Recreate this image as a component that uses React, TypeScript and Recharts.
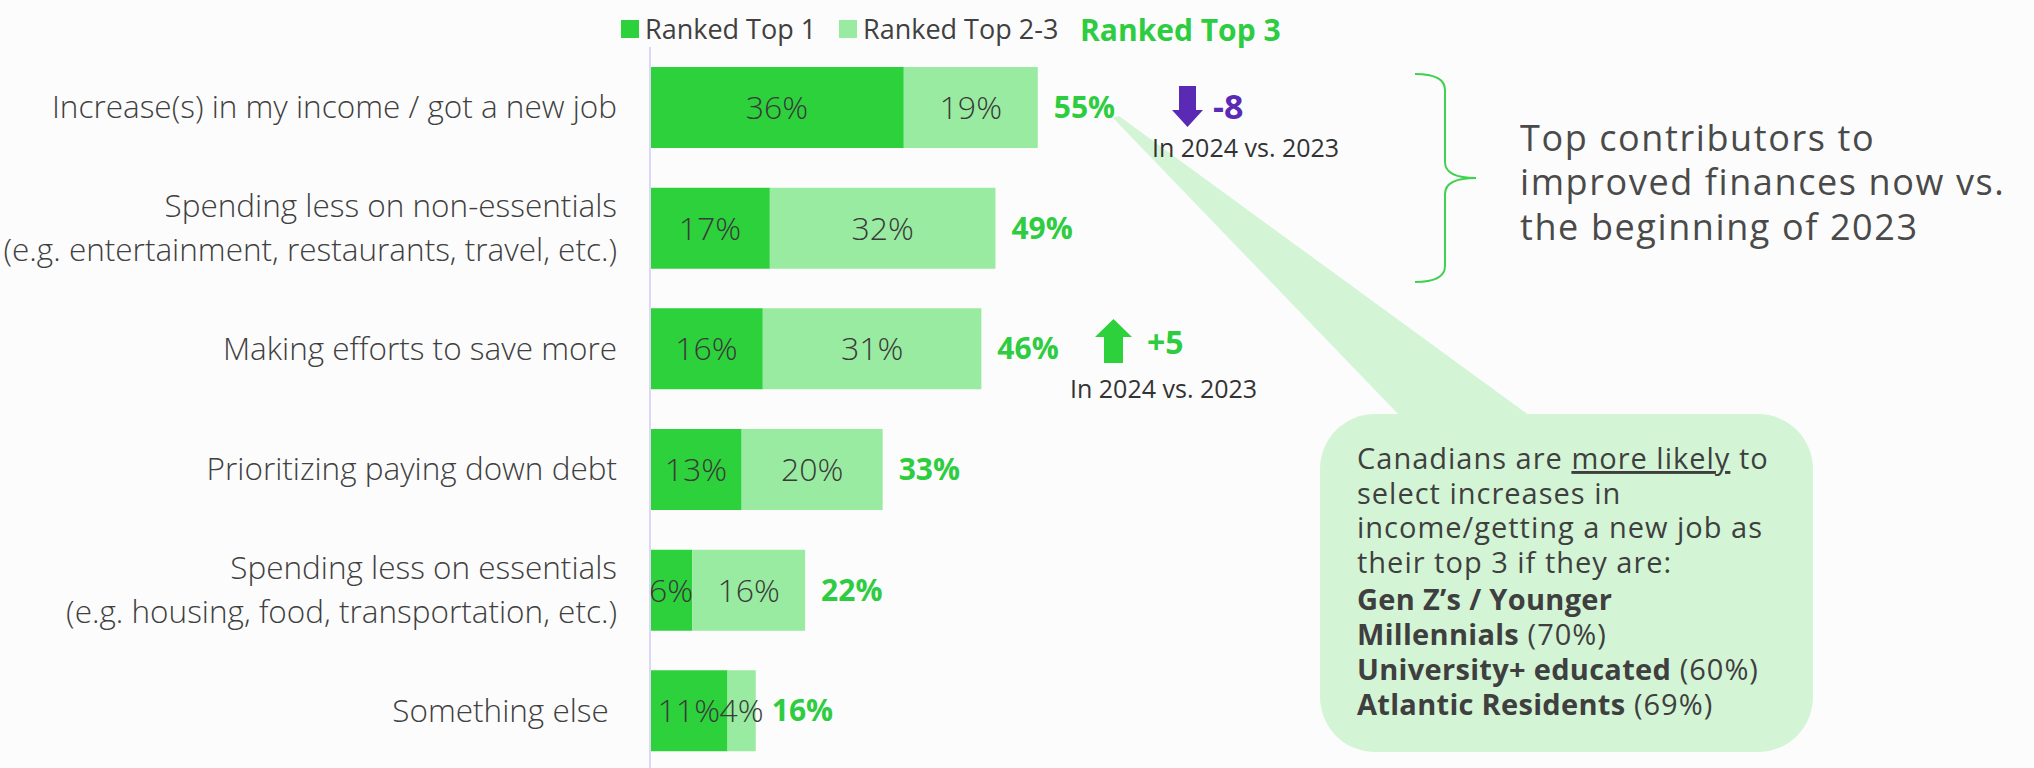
import { BarChart, Bar, XAxis, YAxis, LabelList } from "recharts";

const categories = [
  "Increase(s) in my income / got a new job",
  "Spending less on non-essentials\n(e.g. entertainment, restaurants, travel, etc.)",
  "Making efforts to save more",
  "Prioritizing paying down debt",
  "Spending less on essentials\n(e.g. housing, food, transportation, etc.)",
  "Something else\u00a0",
];
const rankedTop1 = [36, 17, 16, 13, 6, 11];
const rankedTop23 = [19, 32, 31, 20, 16, 4];
const rankedTop3 = [55, 49, 46, 33, 22, 16];

const data = categories.map((label, i) => ({
  label,
  top1: rankedTop1[i],
  top23: rankedTop23[i],
  top3: rankedTop3[i],
}));

const FONT = "'Open Sans', 'Noto Sans', sans-serif";
const DARK = "#2cd13c";
const LIGHT = "#98eba0";
const GREEN_TXT = "#2ecc40";
const PURPLE = "#5b2ab5";
const TEXT = "#404040";

function CategoryTick({ x, y, payload }: any) {
  const lines = String(payload.value).split("\n");
  const lh = 44;
  const start = -((lines.length - 1) * lh) / 2 + 11;
  return (
    <text x={x} y={y} textAnchor="end" fill={TEXT} fontSize={31.5} fontFamily={FONT} fontWeight={300}>
      {lines.map((l, i) => (
        <tspan key={i} x={x} dy={i === 0 ? start : lh}>
          {l}
        </tspan>
      ))}
    </text>
  );
}

const pct = (v: number) => `${v}%`;

function Overlay() {
  const boxLines = [469, 504, 538, 573, 610, 645, 680, 715];
  return (
    <svg
      width={2034}
      height={768}
      style={{ position: "absolute", left: 0, top: 0, pointerEvents: "none" }}
      fontFamily={FONT}
    >
      {/* callout tail sits under the annotation texts */}
      <polygon points="1113,118 1119,116 1530,416 1400,416" fill="#d3f5d6" />

      {/* legend */}
      <rect x={621} y={20} width={18} height={18} fill={DARK} />
      <text x={645} y={39} fontSize={27} fill={TEXT}>Ranked Top 1</text>
      <rect x={839} y={20} width={18} height={18} fill={LIGHT} />
      <text x={863} y={39} fontSize={27} fill={TEXT}>Ranked Top 2-3</text>
      <text x={1080} y={41} fontSize={30} fill={GREEN_TXT} fontWeight={700}>Ranked Top 3</text>

      {/* change vs 2023 */}
      <polygon
        points="1179,86 1196,86 1196,110 1203,110 1187.5,127 1172,110 1179,110"
        fill={PURPLE}
      />
      <text x={1213} y={119} fontSize={34} fontWeight={700} fill={PURPLE}>-8</text>
      <text x={1152} y={157} fontSize={25} fill="#333">In 2024 vs. 2023</text>

      <polygon
        points="1113.5,319 1132,337 1123,337 1123,363 1104,363 1104,337 1095,337"
        fill={DARK}
      />
      <text x={1147} y={354} fontSize={32} fontWeight={700} fill={GREEN_TXT}>+5</text>
      <text x={1070} y={398} fontSize={25} fill="#333">In 2024 vs. 2023</text>

      {/* brace + title */}
      <path
        d="M1415,74 Q1445,74 1445,90 L1445,162 Q1445,178 1476,178 Q1445,178 1445,194 L1445,266 Q1445,282 1415,282"
        fill="none"
        stroke="#3ed24e"
        strokeWidth={2}
      />
      <g fontSize={36} fill="#4a4a4a" letterSpacing={1.6}>
        <text x={1520} y={151}>Top contributors to</text>
        <text x={1520} y={195}>improved finances now vs.</text>
        <text x={1520} y={240}>the beginning of 2023</text>
      </g>

      {/* callout box */}
      <rect x={1320} y={414} width={493} height={338} rx={55} fill="#d3f5d6" />
      <g fontSize={29} fill="#3f3f3f" letterSpacing={1}>
        <text x={1357} y={boxLines[0]}>
          Canadians are <tspan textDecoration="underline">more likely</tspan> to
        </text>
        <text x={1357} y={boxLines[1]}>select increases in</text>
        <text x={1357} y={boxLines[2]}>income/getting a new job as</text>
        <text x={1357} y={boxLines[3]}>their top 3 if they are:</text>
        <text x={1357} y={boxLines[4]} fontWeight={700} letterSpacing={0.3}>Gen Z’s / Younger</text>
        <text x={1357} y={boxLines[5]}>
          <tspan fontWeight={700} letterSpacing={0.3}>Millennials</tspan> (70%)
        </text>
        <text x={1357} y={boxLines[6]}>
          <tspan fontWeight={700} letterSpacing={0.3}>University+ educated</tspan> (60%)
        </text>
        <text x={1357} y={boxLines[7]}>
          <tspan fontWeight={700} letterSpacing={0.3}>Atlantic Residents</tspan> (69%)
        </text>
      </g>
    </svg>
  );
}

export default function App() {
  return (
    <div
      style={{
        position: "absolute",
        left: 0,
        top: 0,
        width: 2034,
        height: 768,
        overflow: "hidden",
        background: "#fcfcfc",
        fontFamily: FONT,
      }}
    >
      <BarChart
        width={2034}
        height={771}
        data={data}
        layout="vertical"
        margin={{ top: 47, right: 679, left: 0, bottom: 0 }}
        barSize={81}
      >
        <XAxis type="number" domain={[0, 100]} hide />
        <YAxis
          type="category"
          dataKey="label"
          width={650}
          tick={<CategoryTick />}
          tickLine={false}
          tickSize={0}
          tickMargin={33}
          axisLine={{ stroke: "#ddd6f6", strokeWidth: 2 }}
          interval={0}
        />
        <Bar dataKey="top1" stackId="a" fill={DARK} isAnimationActive={false}>
          <LabelList
            dataKey="top1"
            position="center"
            formatter={pct}
            fill="#3a3a3a"
            fontSize={32}
            fontFamily={FONT}
            fontWeight={300}
          />
        </Bar>
        <Bar dataKey="top23" stackId="a" fill={LIGHT} isAnimationActive={false}>
          <LabelList
            dataKey="top23"
            position="center"
            formatter={pct}
            fill="#3a3a3a"
            fontSize={32}
            fontFamily={FONT}
            fontWeight={300}
          />
          <LabelList
            dataKey="top3"
            position="right"
            offset={16}
            formatter={pct}
            fill={GREEN_TXT}
            fontSize={30}
            fontWeight={700}
            fontFamily={FONT}
          />
        </Bar>
      </BarChart>
      <Overlay />
    </div>
  );
}
